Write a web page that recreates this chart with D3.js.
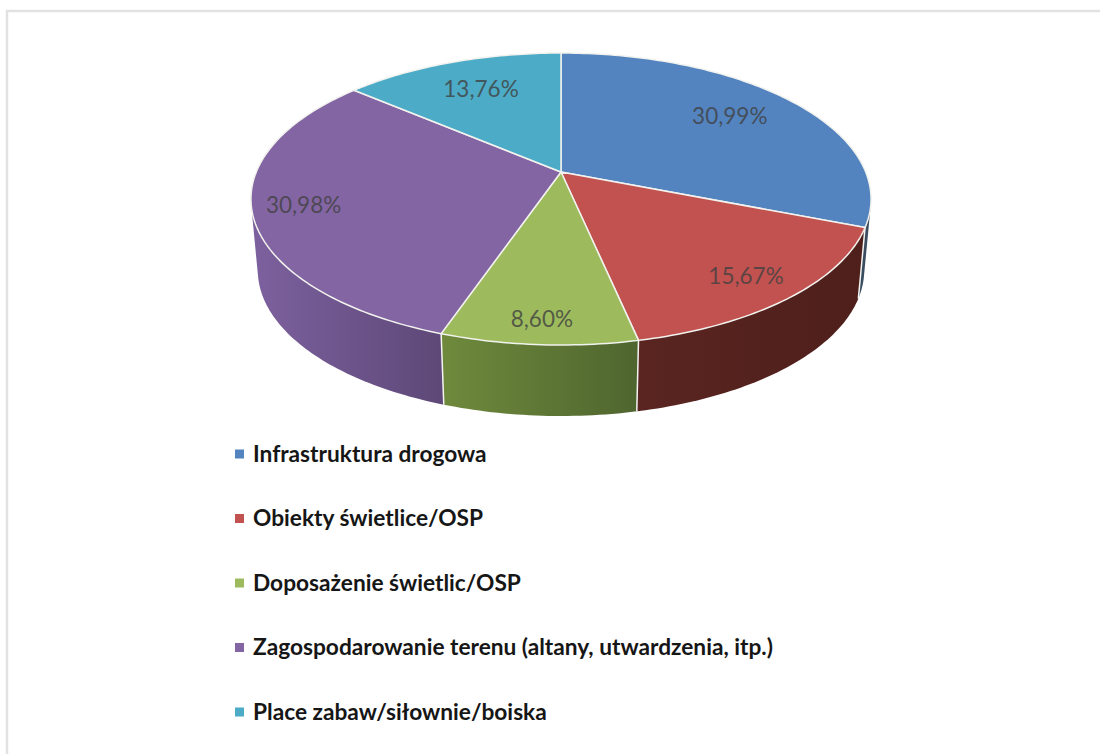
<!DOCTYPE html>
<html>
<head>
<meta charset="utf-8">
<script src="https://cdn.jsdelivr.net/npm/d3@7"></script>
<style>
  html, body { margin: 0; padding: 0; background: #fff; }
  svg { display: block; }
  text { font-family: Lato, "Open Sans", sans-serif; }
</style>
</head>
<body>
<svg id="chart" width="1100" height="754"></svg>
<script>
// data
const categories = [
  "Infrastruktura drogowa",
  "Obiekty świetlice/OSP",
  "Doposażenie świetlic/OSP",
  "Zagospodarowanie terenu (altany, utwardzenia, itp.)",
  "Place zabaw/siłownie/boiska"
];
const values = [30.99, 15.67, 8.60, 30.98, 13.76];
const valueLabels = ["30,99%", "15,67%", "8,60%", "30,98%", "13,76%"];

// colours
const topColors = ["#5384bf", "#c25250", "#9dbb5c", "#8365a3", "#4cabc6"];
const wallLeft = ["#3a4c60", "#5a2520", "#6f8a3c", "#7d619f", "#2f6f80"];
const wallRight = ["#3a4c60", "#4e1f1b", "#4f652f", "#5d4877", "#2f6f80"];

// polozenie etykiet: promien na osi wycinka + drobna korekta w px
const labelRadius = [0.72, 0.83, 0.875, 0.84, 0.73];
const labelNudge = [[0, -3], [0, 3], [0, 0], [0, 1], [3, 0]];

const svg = d3.select("#chart");
const defs = svg.append("defs");

// kadr
svg.append("path")
  .attr("d", "M7,754V11H1100")
  .attr("fill", "none")
  .attr("stroke", "#e2e2e2")
  .attr("stroke-width", 2.5);

// perspektywa: okrag jednostkowy -> elipsa
const cx = 561, cy = 172;
const a = 304.7, b = 141, k = -0.185;
const depth = 71, shrink = 0.978;

function project(r, ang) {
  const X = r * Math.sin(ang), Y = -r * Math.cos(ang);
  const d = 1 + k * Y;
  return [cx + a * X / d, cy + b * Y / d];
}
function projectBottom(ang) {
  const p = project(1, ang);
  return [cx + (p[0] - cx) * shrink, p[1] + depth];
}

const arcs = d3.pie().sort(null).value(d => d)(values);
const line = d3.line();
const deg = Math.PI / 180;
const arcSteps = (from, to) => d3.range(from, to, deg).concat([to]);

// sciany boczne
const wallFrom = 75 * deg, wallTo = 285 * deg;
const walls = svg.append("g");
arcs.forEach((d, i) => {
  const from = Math.max(d.startAngle, wallFrom);
  const to = Math.min(d.endAngle, wallTo);
  if (to <= from) return;
  const steps = arcSteps(from, to);
  // otoczka wypukla, zeby lewa krawedz szla po stycznej
  const pts = d3.polygonHull(steps.map(t => project(1, t)).concat(steps.map(projectBottom)));
  const xs = d3.extent(pts, p => p[0]);
  const grad = defs.append("linearGradient")
    .attr("id", "wall" + i)
    .attr("gradientUnits", "userSpaceOnUse")
    .attr("x1", xs[0]).attr("x2", xs[1])
    .attr("y1", 0).attr("y2", 0);
  grad.append("stop").attr("offset", 0).attr("stop-color", wallLeft[i]);
  grad.append("stop").attr("offset", 1).attr("stop-color", wallRight[i]);
  walls.append("path")
    .attr("d", line(pts) + "Z")
    .attr("fill", `url(#wall${i})`);
});

// biale krawedzie miedzy scianami
arcs.forEach(d => {
  if (d.endAngle <= wallFrom || d.endAngle >= wallTo) return;
  walls.append("path")
    .attr("d", line([project(1, d.endAngle), projectBottom(d.endAngle)]))
    .attr("stroke", "#f4f4f0")
    .attr("stroke-width", 1.5);
});

// wierzch
svg.append("g").selectAll("path")
  .data(arcs)
  .enter().append("path")
  .attr("d", d => line([[cx, cy]].concat(arcSteps(d.startAngle, d.endAngle).map(t => project(1, t)))) + "Z")
  .attr("fill", (d, i) => topColors[i])
  .attr("stroke", "#f2f2ee")
  .attr("stroke-width", 1.5)
  .attr("stroke-linejoin", "round");

// etykiety
svg.append("g").selectAll("text")
  .data(arcs)
  .enter().append("text")
  .attr("transform", (d, i) => {
    const p = project(labelRadius[i], (d.startAngle + d.endAngle) / 2);
    return `translate(${p[0] + labelNudge[i][0]},${p[1] + labelNudge[i][1]})`;
  })
  .attr("text-anchor", "middle")
  .attr("dy", "0.35em")
  .attr("font-size", 22.5)
  .attr("fill", "#404040")
  .attr("fill-opacity", 0.8)
  .text((d, i) => valueLabels[i]);

// legenda
const legendY = d3.scalePoint().domain(categories).range([454, 712]);
const legend = svg.append("g").selectAll("g")
  .data(categories)
  .enter().append("g")
  .attr("transform", d => `translate(235,${legendY(d)})`);

legend.append("rect")
  .attr("y", -4.5)
  .attr("width", 9)
  .attr("height", 9)
  .attr("fill", (d, i) => topColors[i]);

legend.append("text")
  .attr("x", 18)
  .attr("dy", "0.35em")
  .attr("font-size", 22.7)
  .attr("font-weight", 700)
  .attr("fill", "#161616")
  .text(d => d);
</script>
</body>
</html>
